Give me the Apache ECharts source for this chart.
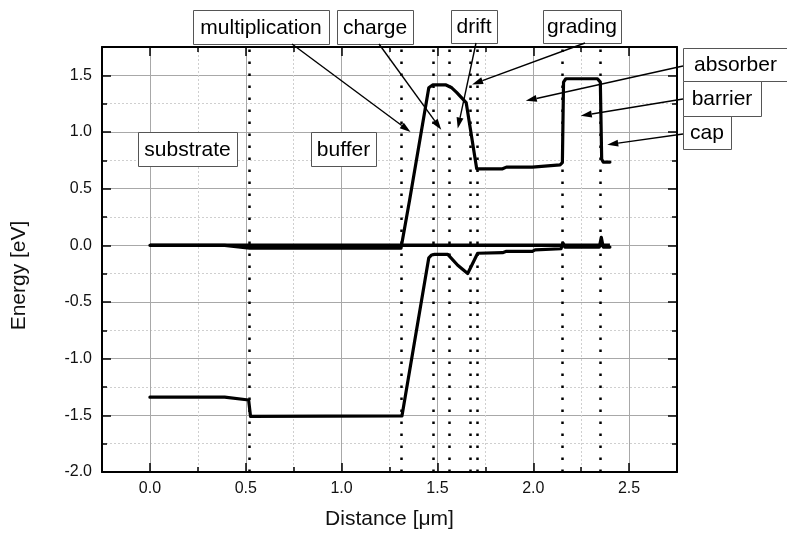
<!DOCTYPE html>
<html>
<head>
<meta charset="utf-8">
<script src="https://cdn.jsdelivr.net/npm/echarts@6/dist/echarts.min.js"></script>
<style>
  html, body { margin: 0; padding: 0; background: #fff; }
  #main { width: 787px; height: 538px; }
</style>
</head>
<body>
<div id="main"></div>
<script>
// conduction band
var condX = [0, 0.39, 0.52, 1.31, 1.355, 1.455, 1.475, 1.545, 1.575, 1.60, 1.65, 1.705, 1.84, 1.86, 1.995, 2.005, 2.14, 2.152, 2.158, 2.17, 2.335, 2.35, 2.357, 2.365, 2.40];
var condE = [0, 0, -0.025, -0.025, 0.40, 1.39, 1.415, 1.415, 1.39, 1.35, 1.26, 0.675, 0.675, 0.69, 0.69, 0.705, 0.71, 0.73, 1.44, 1.47, 1.47, 1.44, 0.76, 0.735, 0.735];
// valence band
var valX = [0, 0.39, 0.515, 0.525, 1.315, 1.455, 1.47, 1.485, 1.554, 1.606, 1.658, 1.71, 1.72, 1.84, 1.86, 1.995, 2.01, 2.145, 2.155, 2.165, 2.345, 2.355, 2.365, 2.40];
var valE = [-1.34, -1.34, -1.365, -1.51, -1.505, -0.11, -0.085, -0.08, -0.08, -0.176, -0.249, -0.07, -0.065, -0.065, -0.053, -0.053, -0.04, -0.03, 0.02, -0.015, -0.015, 0.07, -0.015, -0.015];
// fermi level
var fermiX = [0, 2.40];
var fermiE = [0, 0];
// layer boundaries (dotted lines)
var layerEdges = [0.52, 1.31, 1.475, 1.565, 1.665, 1.71, 2.155, 2.355];

// labels: text, box [x, y, w, h], arrow start, arrow tip (data)
var labelNames = ['multiplication', 'charge', 'drift', 'grading', 'absorber', 'barrier', 'cap', 'substrate', 'buffer'];
var labelBoxes = [[193, 10, 136, 34], [337, 10, 76, 34], [451, 10, 46, 33], [543, 10, 78, 33],
                  [683, 48, 105, 33], [683, 81, 78, 35], [683, 116, 48, 33], [138, 132, 99, 34], [311, 132, 65, 34]];
var arrowFrom = [[292, 44], [379, 44], [476, 43], [585, 43], [683, 66], [683, 99], [683, 134], null, null];
var arrowTo = [[1.36, 1.0], [1.52, 1.02], [1.606, 1.03], [1.681, 1.42], [1.961, 1.275], [2.248, 1.143], [2.386, 0.888], null, null];

var FONT = 'Liberation Sans, Arial, sans-serif';
var myChart = echarts.init(document.getElementById('main'));

function pairs(xs, ys) {
    var out = [];
    for (var i = 0; i < xs.length; i++) out.push([xs[i], ys[i]]);
    return out;
}
function isHalf(v) {
    return Math.abs(v * 2 - Math.round(v * 2)) < 1e-6;
}

var majorX = {
    type: 'value', min: -0.25, max: 2.75, splitNumber: 6
};
var option = {
    animation: false,
    backgroundColor: '#fff',
    grid: { left: 102, top: 47, right: 110, bottom: 66 },
    xAxis: [
        Object.assign({}, majorX, {
            position: 'bottom',
            name: 'Distance [μm]',
            nameLocation: 'middle',
            nameGap: 37,
            nameTextStyle: { fontSize: 21, color: '#111', fontFamily: FONT },
            axisLine: { onZero: false, lineStyle: { color: '#000', width: 2 } },
            axisTick: { inside: true, length: 9, lineStyle: { color: '#000', width: 1.5 } },
            axisLabel: {
                margin: 9, fontSize: 16, color: '#111', fontFamily: FONT,
                formatter: function (v) { return isHalf(v) && v >= 0 && v <= 2.5 ? v.toFixed(1) : ''; }
            },
            splitLine: { show: true, lineStyle: { color: '#a8a8a8', width: 1 } }
        }),
        {
            type: 'value', min: -0.25, max: 2.75, interval: 0.25, position: 'bottom',
            axisLine: { show: false, onZero: false },
            axisTick: { inside: true, length: 5, lineStyle: { color: '#000', width: 1.5 } },
            axisLabel: { show: false },
            splitLine: { show: true, lineStyle: { color: ['#cfcfcf', 'rgba(0,0,0,0)'], width: 1, type: [2, 2] } }
        },
        Object.assign({}, majorX, {
            position: 'top',
            axisLine: { show: true, onZero: false, lineStyle: { color: '#000', width: 2 } },
            axisTick: { inside: true, length: 9, lineStyle: { color: '#000', width: 1.5 } },
            axisLabel: { show: false },
            splitLine: { show: false }
        }),
        {
            type: 'value', min: -0.25, max: 2.75, interval: 0.25, position: 'top',
            axisLine: { show: false, onZero: false },
            axisTick: { inside: true, length: 5, lineStyle: { color: '#000', width: 1.5 } },
            axisLabel: { show: false },
            splitLine: { show: false }
        }
    ],
    yAxis: [
        {
            type: 'value', min: -2, max: 1.75, interval: 0.5, position: 'left',
            name: 'Energy [eV]',
            nameLocation: 'middle',
            nameGap: 72,
            nameTextStyle: { fontSize: 21, color: '#111', fontFamily: FONT, padding: [0, 32, 0, 0] },
            axisLine: { onZero: false, lineStyle: { color: '#000', width: 2 } },
            axisTick: { inside: true, length: 9, lineStyle: { color: '#000', width: 1.5 } },
            axisLabel: {
                margin: 10, fontSize: 16, color: '#111', fontFamily: FONT,
                formatter: function (v) { return v > 1.6 ? '' : v.toFixed(1); }
            },
            splitLine: { show: true, lineStyle: { color: '#a8a8a8', width: 1 } }
        },
        {
            type: 'value', min: -2, max: 1.75, interval: 0.5, position: 'right',
            axisLine: { show: true, onZero: false, lineStyle: { color: '#000', width: 2 } },
            axisTick: { inside: true, length: 9, lineStyle: { color: '#000', width: 1.5 } },
            axisLabel: { show: false },
            splitLine: { show: false }
        },
        {
            type: 'value', min: -2, max: 1.75, interval: 0.25, position: 'left',
            axisLine: { show: false, onZero: false },
            axisTick: { inside: true, length: 5, lineStyle: { color: '#000', width: 1.5 } },
            axisLabel: { show: false },
            splitLine: { show: true, lineStyle: { color: ['rgba(0,0,0,0)', '#cfcfcf'], width: 1, type: [2, 2] } }
        },
        {
            type: 'value', min: -2, max: 1.75, interval: 0.25, position: 'right',
            axisLine: { show: false, onZero: false },
            axisTick: { inside: true, length: 5, lineStyle: { color: '#000', width: 1.5 } },
            axisLabel: { show: false },
            splitLine: { show: false }
        }
    ],
    series: [
        {
            name: 'fermi', type: 'line', data: pairs(fermiX, fermiE),
            showSymbol: false, symbol: 'none', silent: true,
            lineStyle: { color: '#000', width: 3.5 },
            markLine: {
                silent: true, symbol: ['none', 'none'], label: { show: false },
                lineStyle: { color: '#000', width: 2.5, type: [2.5, 9.5] },
                data: layerEdges.map(function (x) { return { xAxis: x }; })
            }
        },
        {
            name: 'conduction', type: 'line', data: pairs(condX, condE),
            showSymbol: false, symbol: 'none', silent: true,
            lineStyle: { color: '#000', width: 3.2, join: 'round', cap: 'round' }
        },
        {
            name: 'valence', type: 'line', data: pairs(valX, valE),
            showSymbol: false, symbol: 'none', silent: true,
            lineStyle: { color: '#000', width: 3.2, join: 'round', cap: 'round' }
        }
    ]
};
myChart.setOption(option);

// annotation boxes and arrows
var gfx = [];
for (var i = 0; i < labelNames.length; i++) {
    var b = labelBoxes[i];
    gfx.push({
        type: 'rect', z: 100, silent: true,
        shape: { x: b[0] + 0.5, y: b[1] + 0.5, width: b[2], height: b[3] },
        style: { fill: '#fff', stroke: '#555', lineWidth: 1 }
    });
    gfx.push({
        type: 'text', z: 101, silent: true,
        x: b[0] + b[2] / 2, y: b[1] + b[3] / 2 + 1,
        style: {
            text: labelNames[i], fill: '#000', font: '21px ' + FONT,
            align: 'center', verticalAlign: 'middle',
            textAlign: 'center', textVerticalAlign: 'middle'
        }
    });
    if (arrowFrom[i]) {
        var p0 = arrowFrom[i];
        var p1 = myChart.convertToPixel({ xAxisIndex: 0, yAxisIndex: 0 }, arrowTo[i]);
        var dx = p1[0] - p0[0], dy = p1[1] - p0[1];
        var len = Math.sqrt(dx * dx + dy * dy);
        var ux = dx / len, uy = dy / len;
        var hl = 11, hw = 3.5;
        var bx = p1[0] - ux * hl, by = p1[1] - uy * hl;
        gfx.push({
            type: 'line', z: 102, silent: true,
            shape: { x1: p0[0], y1: p0[1], x2: bx, y2: by },
            style: { stroke: '#000', lineWidth: 1.4 }
        });
        gfx.push({
            type: 'polygon', z: 102, silent: true,
            shape: { points: [[p1[0], p1[1]], [bx - uy * hw, by + ux * hw], [bx + uy * hw, by - ux * hw]] },
            style: { fill: '#000' }
        });
    }
}
myChart.setOption({ graphic: gfx });
</script>
</body>
</html>
